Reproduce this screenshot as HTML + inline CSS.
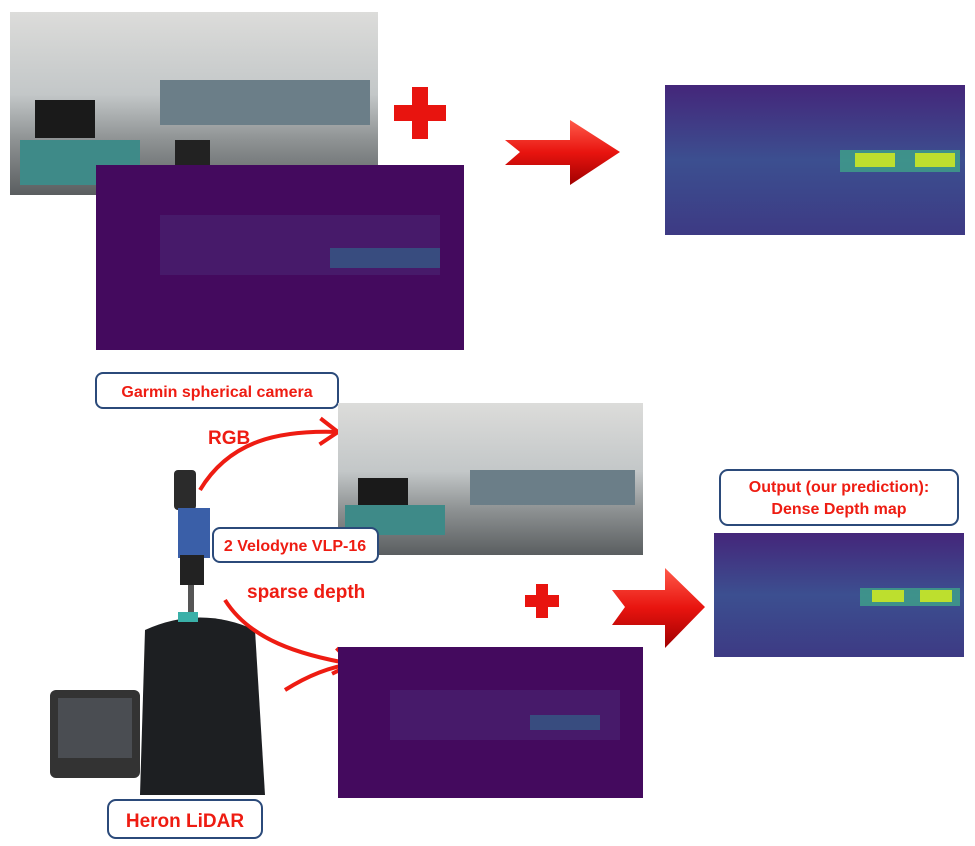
<!DOCTYPE html>
<html><head><meta charset="utf-8"><style>
html,body{margin:0;padding:0;background:#fff;}
svg{display:block;font-family:"Liberation Sans",sans-serif;}
</style></head><body>
<svg width="975" height="846" viewBox="0 0 975 846">
<defs>
<linearGradient id="room" x1="0" y1="0" x2="0" y2="1">
<stop offset="0" stop-color="#dcdcda"/><stop offset="0.45" stop-color="#c3c7c8"/><stop offset="0.7" stop-color="#8e9293"/><stop offset="1" stop-color="#5a5e60"/></linearGradient>
<linearGradient id="dense" x1="0" y1="0" x2="0" y2="1">
<stop offset="0" stop-color="#44267a"/><stop offset="0.5" stop-color="#3c4f90"/><stop offset="1" stop-color="#3d3a84"/></linearGradient>
<linearGradient id="arrow" x1="0" y1="0" x2="0" y2="1">
<stop offset="0" stop-color="#ff5a4a"/><stop offset="0.5" stop-color="#e8140f"/><stop offset="1" stop-color="#a00000"/></linearGradient>
<marker id="ah" markerUnits="userSpaceOnUse" markerWidth="24" markerHeight="30" refX="20" refY="15" orient="auto"><path d="M2,2 L20,15 L2,28" fill="none" stroke="#ee1c12" stroke-width="4"/></marker>
</defs>

<g>
<rect x="10" y="12" width="368" height="183" fill="url(#room)"/>
<rect x="35" y="100" width="60" height="38" fill="#1a1a1a"/>
<rect x="20" y="140" width="120" height="45" fill="#3e8a88"/>
<rect x="160" y="80" width="210" height="45" fill="#6b7e88"/>
<rect x="175" y="140" width="35" height="35" fill="#222"/>
</g>
<g>
<rect x="96" y="165" width="368" height="185" fill="#440a5e"/>
<rect x="160" y="215" width="280" height="60" fill="#4a2a76" opacity="0.5"/>
<rect x="330" y="248" width="110" height="20" fill="#2e6e8e" opacity="0.6"/>
</g>
<g>
<rect x="412" y="87" width="16" height="52" fill="#e8140f"/><rect x="394" y="105" width="52" height="16" fill="#e8140f"/>
</g>
<path d="M505,140 L570,140 L570,120 L620,152 L570,185 L570,165 L505,165 L520,152 Z" fill="url(#arrow)"/>
<g>
<rect x="665" y="85" width="300" height="150" fill="url(#dense)"/>
<rect x="840" y="150" width="120" height="22" fill="#3fa38a" opacity="0.8"/>
<rect x="855" y="153" width="40" height="14" fill="#bddf2e"/>
<rect x="915" y="153" width="40" height="14" fill="#bddf2e"/>
</g>

<rect x="96" y="373" width="242" height="35" rx="7" fill="#fff" stroke="#2b4a7a" stroke-width="2"/>
<text x="217" y="397" text-anchor="middle" font-size="16" font-weight="bold" fill="#ee1c12">Garmin spherical camera</text>
<text x="208" y="444" font-size="19" font-weight="bold" fill="#ee1c12">RGB</text>
<path d="M200,490 C230,440 280,430 338,432" fill="none" stroke="#ee1c12" stroke-width="4" marker-end="url(#ah)"/>

<g>
<rect x="338" y="403" width="305" height="152" fill="url(#room)"/>
<rect x="358" y="478" width="50" height="30" fill="#1a1a1a"/>
<rect x="345" y="505" width="100" height="30" fill="#3e8a88"/>
<rect x="470" y="470" width="165" height="35" fill="#6b7e88"/>
</g>

<g>
<rect x="174" y="470" width="22" height="40" rx="4" fill="#2b2b2b"/>
<rect x="178" y="508" width="32" height="50" fill="#3a5fa8"/>
<rect x="180" y="555" width="24" height="30" fill="#222"/>
<rect x="188" y="585" width="6" height="40" fill="#555"/>
</g>
<g>
<path d="M145,630 Q200,605 255,630 L265,795 L140,795 Z" fill="#1d1f22"/>
<rect x="178" y="612" width="20" height="10" fill="#3ab0a8"/>
</g>
<g>
<rect x="50" y="690" width="90" height="88" rx="6" fill="#333"/>
<rect x="58" y="698" width="74" height="60" fill="#4a4d52"/>
</g>

<rect x="213" y="528" width="165" height="34" rx="7" fill="#fff" stroke="#2b4a7a" stroke-width="2"/>
<text x="295" y="551" text-anchor="middle" font-size="16" font-weight="bold" fill="#ee1c12">2 Velodyne VLP-16</text>
<text x="247" y="598" font-size="19" font-weight="bold" fill="#ee1c12">sparse depth</text>
<path d="M225,600 C250,640 300,655 352,664" fill="none" stroke="#ee1c12" stroke-width="4" marker-end="url(#ah)"/>
<path d="M285,690 Q320,668 352,664" fill="none" stroke="#ee1c12" stroke-width="4"/>

<g>
<rect x="338" y="647" width="305" height="151" fill="#440a5e"/>
<rect x="390" y="690" width="230" height="50" fill="#4a2a76" opacity="0.5"/>
<rect x="530" y="715" width="70" height="15" fill="#2e6e8e" opacity="0.6"/>
</g>

<g>
<rect x="536" y="584" width="12" height="34" fill="#e8140f"/><rect x="525" y="595" width="34" height="12" fill="#e8140f"/>
</g>
<path d="M612,590 L665,590 L665,568 L705,607 L665,648 L665,625 L612,625 L625,607 Z" fill="url(#arrow)"/>

<rect x="720" y="470" width="238" height="55" rx="8" fill="#fff" stroke="#2b4a7a" stroke-width="2"/>
<text x="839" y="492" text-anchor="middle" font-size="16" font-weight="bold" fill="#ee1c12">Output (our prediction):</text>
<text x="839" y="514" text-anchor="middle" font-size="16" font-weight="bold" fill="#ee1c12">Dense Depth map</text>

<g>
<rect x="714" y="533" width="250" height="124" fill="url(#dense)"/>
<rect x="860" y="588" width="100" height="18" fill="#3fa38a" opacity="0.8"/>
<rect x="872" y="590" width="32" height="12" fill="#bddf2e"/>
<rect x="920" y="590" width="32" height="12" fill="#bddf2e"/>
</g>

<rect x="108" y="800" width="154" height="38" rx="8" fill="#fff" stroke="#2b4a7a" stroke-width="2"/>
<text x="185" y="827" text-anchor="middle" font-size="19" font-weight="bold" fill="#ee1c12">Heron LiDAR</text>
</svg>
</body></html>
